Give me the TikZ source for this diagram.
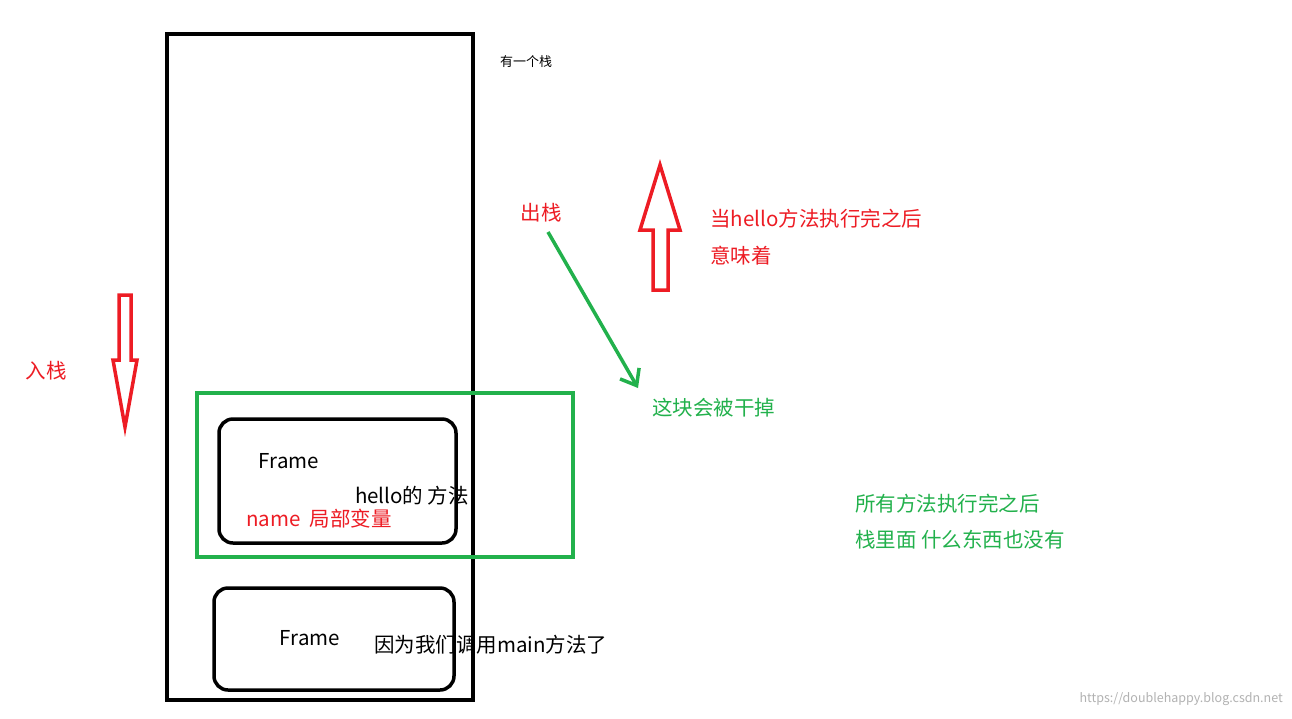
\documentclass[tikz,border=0pt]{standalone}
\usepackage{fontspec}
\setmainfont{Noto Sans CJK SC}
\usetikzlibrary{arrows.meta}
\definecolor{rd}{RGB}{237,28,36}
\definecolor{gr}{RGB}{34,177,76}
\begin{document}
\begin{tikzpicture}[x=1pt,y=-1pt,
  txt/.style={font=\fontsize{20.5}{24}\selectfont,inner sep=0pt},
  rtxt/.style={txt,text=rd},
  gtxt/.style={txt,text=gr},
  box/.style={draw=black,line width=3.5pt,rounded corners=14pt}]
\useasboundingbox[fill=white] (0,0) rectangle (1292,718);
\node[draw,line width=4pt,minimum width=306pt,minimum height=666pt,inner sep=0pt] (stack) at (320,367) {};
\node[font=\fontsize{13}{15}\selectfont,inner sep=0pt] (t1) at (526,62) {有一个栈};
% red up arrow
\draw[rd,line width=3.5pt,line join=miter] (653,290) -- (668,290) -- (668,230) -- (680,230) -- (660,165) -- (640,230) -- (653,230) -- cycle;
\node[rtxt,anchor=west] (t2) at (710,219) {当hello方法执行完之后};
\node[rtxt,anchor=west] (t3) at (710,256) {意味着};
\node[rtxt] (out) at (541,213) {出栈};
% red down arrow
\draw[rd,line width=3.5pt,line join=miter] (119,295) -- (131,295) -- (131,360) -- (137,360) -- (125,427) -- (113,360) -- (119,360) -- cycle;
\node[rtxt] (in) at (46,371) {入栈};
% green
\node[draw=gr,line width=3.5pt,minimum width=376pt,minimum height=164pt,inner sep=0pt] (gbox) at (385,475) {};
\node[gtxt,anchor=west] (kill) at (652,408) {这块会被干掉};
\coordinate (gs) at (548,232);
\coordinate (ge) at (638,388);
\draw[gr,line width=3.5pt,-{Straight Barb[length=14pt,width=22pt,line width=3.5pt]}] (gs) -- (ge);
\node[box,minimum width=237pt,minimum height=124pt] (f1) at (337.5,481) {};
\node[txt] (fr1) at (289,461) {Frame};
\node[txt] (h) at (412,496) {hello的 方法};
\node[rtxt,anchor=west] (nm) at (246,519) {name\ \ 局部变量};
\node[box,minimum width=240pt,minimum height=102pt] (f2) at (334,639) {};
\node[txt] (fr2) at (310,638) {Frame};
\node[txt,anchor=west] (m) at (374,645) {因为我们调用main方法了};
\node[gtxt,anchor=west] (a1) at (855,504) {所有方法执行完之后};
\node[gtxt,anchor=west] (a2) at (855,540) {栈里面 什么东西也没有};
\node[text=gray!60,font=\fontsize{12.5}{14}\selectfont,inner sep=0pt,anchor=east] (wm) at (1283,699) {https://doublehappy.blog.csdn.net};
\end{tikzpicture}
\end{document}
